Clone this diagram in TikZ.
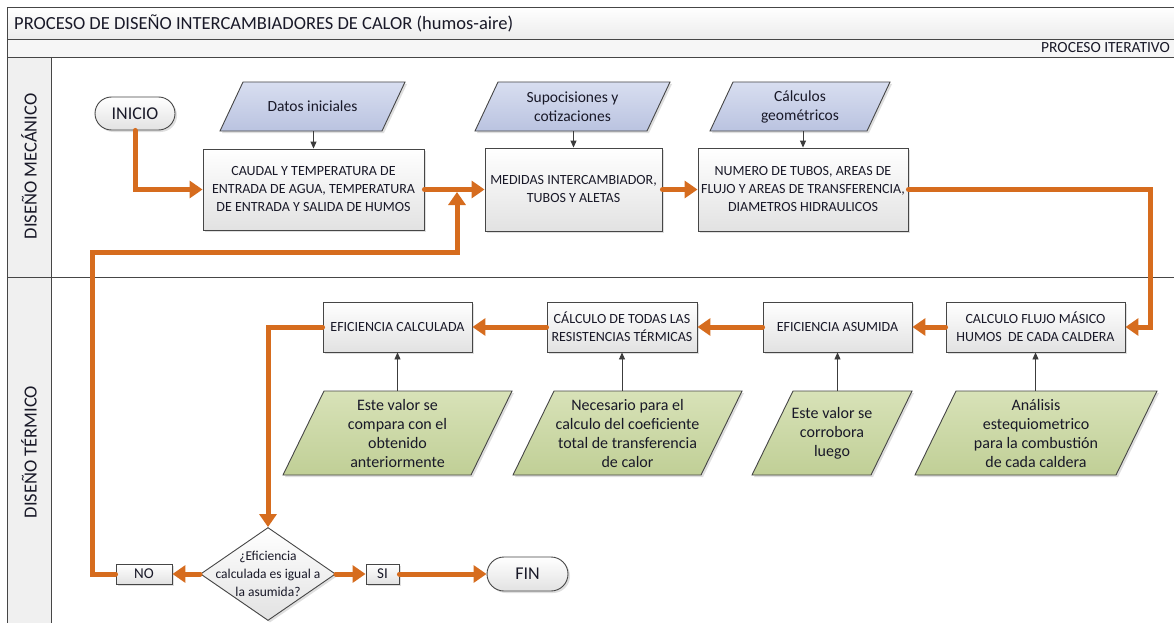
\documentclass[tikz,border=0pt]{standalone}
\usepackage{fontspec}
\setmainfont{Carlito}
\usetikzlibrary{shapes.geometric,shapes.misc,arrows.meta,shadows}

\definecolor{orng}{RGB}{214,108,30}
\definecolor{bluetop}{RGB}{216,222,240}
\definecolor{bluebot}{RGB}{186,195,224}
\definecolor{greentop}{RGB}{216,226,184}
\definecolor{greenbot}{RGB}{192,207,150}
\definecolor{edgec}{RGB}{70,70,70}
\definecolor{txtc}{RGB}{25,25,40}
\definecolor{boxbot}{RGB}{226,226,226}
\definecolor{barbot}{RGB}{236,236,236}
\definecolor{lanefill}{RGB}{240,240,240}
\definecolor{thinc}{RGB}{60,60,60}
\definecolor{barfill}{RGB}{246,246,246}

% parallelogram: centre x, centre y, bounding width, height, slant offset, style
\newcommand{\pgram}[6]{\path[#6] ({#1-#3/2},{#2+#4/2}) -- ({#1-#3/2+#5},{#2-#4/2}) -- ({#1+#3/2},{#2-#4/2}) -- ({#1+#3/2-#5},{#2+#4/2}) -- cycle;}

\begin{document}
\begin{tikzpicture}[x=1pt,y=-1pt,
  shad/.style={drop shadow={shadow xshift=2pt,shadow yshift=-2pt,opacity=0.25}},
  procbox/.style={draw=edgec, line width=0.9pt, top color=white, bottom color=boxbot,
    shad, font=\fontsize{14}{18}\selectfont, text=txtc, align=center, inner sep=0pt},
  blueshape/.style={draw=edgec, line width=0.9pt, top color=bluetop, bottom color=bluebot, shad},
  greenshape/.style={draw=edgec, line width=0.9pt, top color=greentop, bottom color=greenbot, shad},
  bluetxt/.style={text=txtc, align=center, inner sep=0pt, font=\fontsize{15.5}{19}\selectfont},
  greentxt/.style={text=txtc, align=center, inner sep=0pt, font=\fontsize{16}{19}\selectfont},
  termbox/.style={rounded rectangle, draw=edgec, line width=0.9pt, top color=white,
    bottom color=boxbot, shad, font=\fontsize{18}{20}\selectfont, text=txtc, inner sep=0pt},
  smallbox/.style={draw=edgec, line width=0.9pt, top color=white, bottom color=boxbot,
    shad, font=\fontsize{15}{17}\selectfont, text=txtc, inner sep=0pt},
  oarrow/.style={draw=orng, line width=5pt, line cap=round, -{Triangle[length=13pt,width=17pt]}},
  tarrow/.style={draw=thinc, line width=0.9pt, -{Triangle[length=7pt,width=6pt]}},
  frameline/.style={draw=edgec, line width=0.9pt}
]
\useasboundingbox (0,0) rectangle (1174,623);
\clip (0,0) rectangle (1174,623);
\fill[white] (0,0) rectangle (1174,623);

% pool / lanes
\shade[top color=white, bottom color=barbot] (7,7) rectangle (1190,39);
\fill[barfill] (7,39) rectangle (1190,57);
\fill[lanefill] (7,57) rectangle (51,640);
\draw[frameline] (7,640) -- (7,7) -- (1190,7);
\draw[frameline] (7,39) -- (1190,39);
\draw[frameline] (7,57) -- (1190,57);
\draw[frameline] (7,277) -- (1190,277);
\draw[frameline] (51,57) -- (51,640);

\node[anchor=west, font=\fontsize{18.5}{20}\selectfont, text=txtc, inner sep=0pt] (title) at (14,23) {PROCESO DE DISEÑO INTERCAMBIADORES DE CALOR (humos-aire)};
\node[anchor=east, font=\fontsize{15.5}{17}\selectfont, text=txtc, inner sep=0pt] (iter) at (1170,48) {PROCESO ITERATIVO};
\node[rotate=90, font=\fontsize{18.5}{20}\selectfont, text=txtc, inner sep=0pt] (lane1) at (29,166.5) {DISEÑO MECÁNICO};
\node[rotate=90, font=\fontsize{18.5}{20}\selectfont, text=txtc, inner sep=0pt] (lane2) at (29,452) {DISEÑO TÉRMICO};

% top lane
\node[termbox, minimum width=80pt, minimum height=33pt] (inicio) at (135,113.5) {INICIO};

\pgram{312.5}{106.5}{185}{49}{23}{blueshape}
\node[bluetxt, minimum width=140pt, minimum height=49pt] (datos) at (312.5,106.5) {Datos iniciales};
\pgram{572.5}{106.5}{195}{49}{23}{blueshape}
\node[bluetxt, minimum width=150pt, minimum height=49pt] (supo) at (572.5,106.5) {Supocisiones y\\cotizaciones};
\pgram{800}{106.5}{180}{49}{23}{blueshape}
\node[bluetxt, minimum width=135pt, minimum height=49pt] (geom) at (800,106.5) {Cálculos\\geométricos};

\node[procbox, minimum width=221pt, minimum height=81pt] (caudal) at (313.5,189.5) {CAUDAL Y TEMPERATURA DE\\ENTRADA DE AGUA, TEMPERATURA\\DE ENTRADA Y SALIDA DE HUMOS};
\node[procbox, minimum width=177pt, minimum height=83pt] (medidas) at (573.5,189.5) {MEDIDAS INTERCAMBIADOR,\\TUBOS Y ALETAS};
\node[procbox, minimum width=210pt, minimum height=83pt] (numero) at (803,189.5) {NUMERO DE TUBOS, AREAS DE\\FLUJO Y AREAS DE TRANSFERENCIA,\\DIAMETROS HIDRAULICOS};

% bottom lane
\node[procbox, minimum width=179pt, minimum height=50pt] (cflujo) at (1035.5,327) {CALCULO FLUJO MÁSICO\\HUMOS\ \ DE CADA CALDERA};
\node[procbox, minimum width=149pt, minimum height=50pt] (easum) at (837.5,327) {EFICIENCIA ASUMIDA};
\node[procbox, minimum width=150pt, minimum height=50pt] (ctodas) at (622,327) {CÁLCULO DE TODAS LAS\\RESISTENCIAS TÉRMICAS};
\node[procbox, minimum width=149pt, minimum height=50pt] (ecalc) at (397.5,327) {EFICIENCIA CALCULADA};

\pgram{397.5}{433}{229}{84}{41}{greenshape}
\node[greentxt, minimum width=180pt, minimum height=84pt] (g1) at (397.5,433) {Este valor se\\compara con el\\obtenido\\anteriormente};
\pgram{627.5}{433}{229}{84}{41}{greenshape}
\node[greentxt, minimum width=180pt, minimum height=84pt] (g2) at (627.5,433) {Necesario para el\\calculo del coeficiente\\total de transferencia\\de calor};
\pgram{832}{433}{160}{84}{41}{greenshape}
\node[greentxt, minimum width=110pt, minimum height=84pt] (g3) at (832,433) {Este valor se\\corrobora\\luego};
\pgram{1036}{433}{242}{84}{41}{greenshape}
\node[greentxt, minimum width=190pt, minimum height=84pt] (g4) at (1036,433) {Análisis\\estequiometrico\\para la combustión\\de cada caldera};

\node[diamond, draw=edgec, line width=0.9pt, top color=white, bottom color=boxbot, shad,
  minimum width=135pt, minimum height=93pt, inner sep=0pt] (dec) at (268,574) {};
\node[font=\fontsize{13.5}{18}\selectfont, text=txtc, align=center, inner sep=0pt] (dectxt) at (dec.center) {¿Eficiencia\\calculada es igual a\\la asumida?};
\node[smallbox, minimum width=56pt, minimum height=20pt] (no) at (144,574) {NO};
\node[smallbox, minimum width=33pt, minimum height=20pt] (si) at (382.5,574) {SI};
\node[termbox, minimum width=81pt, minimum height=34pt] (fin) at (527.5,574) {FIN};

% thin arrows
\draw[tarrow] (datos.south -| caudal.north) -- (caudal.north);
\draw[tarrow] (supo.south -| medidas.north) -- (medidas.north);
\draw[tarrow] (geom.south -| numero.north) -- (numero.north);
\draw[tarrow] (g1.north -| ecalc.south) -- (ecalc.south);
\draw[tarrow] (g2.north -| ctodas.south) -- (ctodas.south);
\draw[tarrow] (g3.north -| easum.south) -- (easum.south);
\draw[tarrow] (g4.north -| cflujo.south) -- (cflujo.south);

% orange flow
\coordinate (lpA) at (92,252);
\coordinate (lpB) at (457,252);
\coordinate (lpC) at (457,192);
\coordinate (rtc) at (1150,327);

\draw[oarrow] (inicio.south) |- (caudal.west);
\draw[oarrow] (caudal.east) -- (medidas.west);
\draw[oarrow] (medidas.east) -- (numero.west);
\draw[oarrow] (numero.east) -| (rtc) -- (cflujo.east);
\draw[oarrow] (cflujo.west) -- (easum.east);
\draw[oarrow] (easum.west) -- (ctodas.east);
\draw[oarrow] (ctodas.west) -- (ecalc.east);
\draw[oarrow] (ecalc.west) -| (dec.north);
\draw[oarrow] (dec.west) -- (no.east);
\draw[oarrow] (dec.east) -- (si.west);
\draw[oarrow] (si.east) -- (fin.west);
\draw[oarrow] (no.west) -| (lpA) -- (lpB) -- (lpC);
\end{tikzpicture}
\end{document}
